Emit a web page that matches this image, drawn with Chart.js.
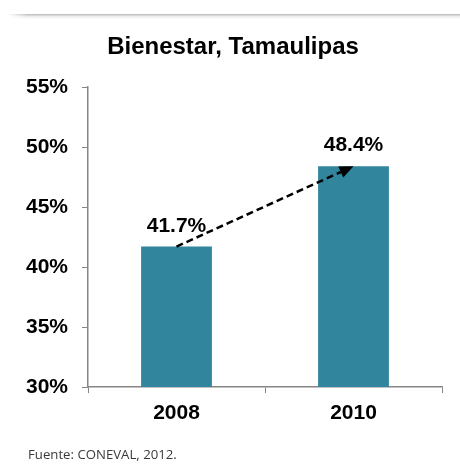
<!DOCTYPE html>
<html>
<head>
<meta charset="utf-8">
<script src="https://cdn.jsdelivr.net/npm/chart.js@4.4.1/dist/chart.umd.min.js"></script>
<style>
  body { margin: 0; background: #fff; }
  #wrap { position: relative; width: 460px; height: 466px; overflow: hidden; }
  #shadow { position: absolute; left: 8px; top: 14px; width: 452px; height: 5px;
            background: linear-gradient(to bottom, #b8b8b8, #ececec 50%, #fff);
            -webkit-mask-image: linear-gradient(to right, transparent, #000 20px); }
  #fuente { position: absolute; left: 28px; top: 445px; font-family: "Open Sans", sans-serif;
            font-size: 13.2px; color: #3a3a3a; }
</style>
</head>
<body>
<div id="wrap">
  <div id="shadow"></div>
  <canvas id="chart" width="460" height="466"></canvas>
  <div id="fuente">Fuente: CONEVAL, 2012.</div>
</div>
<script>
// datos
const years = ['2008', '2010'];
const bienestar = [41.7, 48.4];
const yTicks = [30, 35, 40, 45, 50, 55];
const titulo = 'Bienestar, Tamaulipas';

const axisColor = '#868686';
const barColor = '#31859C';
const boldFont = '"Liberation Sans", Arial, sans-serif';

// titulo (centrado en todo el lienzo), etiquetas de valor y flecha discontinua
const labelsAndArrow = {
  id: 'labelsAndArrow',
  afterDatasetsDraw(chart) {
    const ctx = chart.ctx;
    const bars = chart.getDatasetMeta(0).data;
    ctx.save();
    ctx.fillStyle = '#000';
    ctx.textAlign = 'center';

    ctx.font = 'bold 24px ' + boldFont;
    ctx.textBaseline = 'middle';
    ctx.fillText(titulo, 233, 47);

    ctx.font = 'bold 21px ' + boldFont;
    ctx.textBaseline = 'alphabetic';
    bars.forEach((b, i) => {
      ctx.fillText(bienestar[i].toFixed(1) + '%', b.x, b.y - 15);
    });

    const a = bars[0], z = bars[1];
    const ang = Math.atan2(z.y - a.y, z.x - a.x);
    const headLen = 14, headW = 6;
    const bx = z.x - headLen * Math.cos(ang), by = z.y - headLen * Math.sin(ang);
    ctx.strokeStyle = '#000';
    ctx.lineWidth = 2.5;
    ctx.setLineDash([7, 4]);
    ctx.beginPath();
    ctx.moveTo(a.x, a.y);
    ctx.lineTo(bx, by);
    ctx.stroke();
    ctx.setLineDash([]);
    ctx.beginPath();
    ctx.moveTo(z.x, z.y);
    ctx.lineTo(bx + headW * Math.sin(ang), by - headW * Math.cos(ang));
    ctx.lineTo(bx - headW * Math.sin(ang), by + headW * Math.cos(ang));
    ctx.closePath();
    ctx.fill();
    ctx.restore();
  }
};

new Chart(document.getElementById('chart'), {
  type: 'bar',
  data: {
    labels: years,
    datasets: [{
      data: bienestar,
      backgroundColor: barColor,
      borderWidth: 0,
      categoryPercentage: 0.8,
      barPercentage: 0.5
    }]
  },
  options: {
    responsive: false,
    animation: false,
    layout: { padding: { left: 0, right: 18, top: 87, bottom: 39 } },
    plugins: {
      legend: { display: false },
      tooltip: { enabled: false },
      title: { display: false }
    },
    scales: {
      x: {
        grid: { drawOnChartArea: false, drawTicks: true, tickLength: 6, color: axisColor, offset: true },
        border: { color: axisColor, width: 1.5 },
        ticks: {
          color: '#000', padding: 8,
          font: { family: boldFont, size: 21, weight: 'bold' }
        },
        afterFit(s) { s.height = 40; }
      },
      y: {
        min: 30, max: 55,
        afterBuildTicks(s) { s.ticks = yTicks.map(v => ({ value: v })); },
        grid: { drawOnChartArea: false, drawTicks: true, tickLength: 6, color: axisColor },
        border: { color: axisColor, width: 1.5 },
        ticks: {
          color: '#000', padding: 14,
          font: { family: boldFont, size: 21, weight: 'bold' },
          callback: v => v + '%'
        },
        afterFit(s) { s.width = 88; }
      }
    }
  },
  plugins: [labelsAndArrow]
});
</script>
</body>
</html>
